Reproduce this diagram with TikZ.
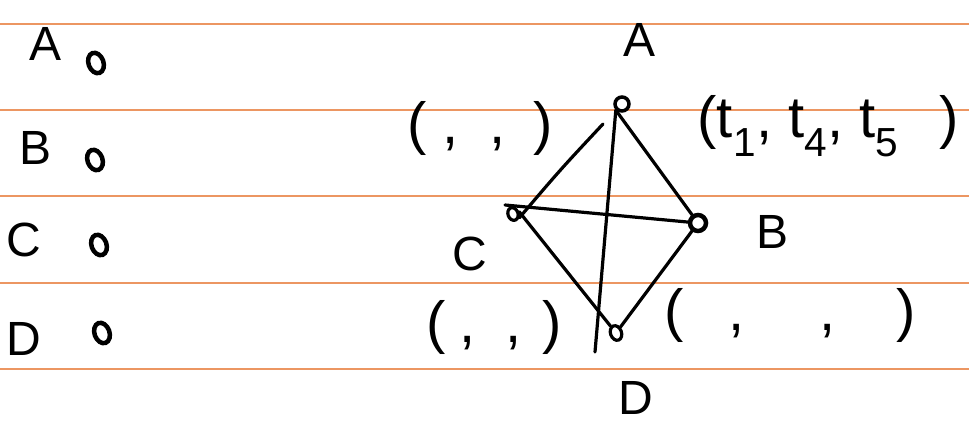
\documentclass[tikz,border=0pt]{standalone}
\usepackage{fontspec}
\setmainfont{Liberation Sans}
\usetikzlibrary{shapes.geometric}
\definecolor{ruled}{RGB}{236,150,98}
\tikzset{
  ruleline/.style={ruled, line width=2.6pt},
  lbl/.style={inner sep=0pt, font=\fontsize{48}{50}\selectfont},
  tup/.style={inner sep=0pt, font=\fontsize{58}{60}\selectfont},
  listdot/.style={ellipse, draw, line width=4.5pt, minimum width=15pt, minimum height=21pt, inner sep=0pt, rotate=20},
  vtx/.style={circle, draw, line width=3.5pt, minimum size=14pt, inner sep=0pt},
  edge/.style={line width=3.2pt, line cap=round},
}
\begin{document}
\begin{tikzpicture}[x=1pt,y=-1pt]
\useasboundingbox (0,0) rectangle (969,423);
\fill[white] (0,0) rectangle (969,423);
% ruled lines
\foreach \yy in {24,110,196,283,369}
  \draw[ruleline] (0,\yy) -- (969,\yy);
% left list
\node[lbl] (la) at (46,44) {A};
\node[lbl] (lb) at (36,148) {B};
\node[lbl] (lc) at (24,240) {C};
\node[lbl] (ld) at (24,339) {D};
\node[listdot] (oa) at (96,63) {};
\node[listdot] (ob) at (95,160) {};
\node[listdot] (oc) at (99,245) {};
\node[listdot] (od) at (102,333) {};
% graph vertices
\node[vtx] (A) at (622,104) {};
\node[vtx, minimum size=16pt, line width=4.5pt] (B) at (698,223) {};
\node[listdot, minimum width=10pt, minimum height=13pt, line width=3.2pt] (C) at (513,214) {};
\node[listdot, minimum width=11pt, minimum height=15pt, line width=3.2pt] (D) at (616,333) {};
\coordinate (Dend) at (595,352);
\coordinate (Cend) at (505,205);
\coordinate (Atop) at (603,124);
% edges
\draw[edge] (A.south west) -- (Dend);
\draw[edge] (A.south west) -- (B);
\draw[edge] (B) -- (D);
\draw[edge] (C.east) -- (D);
\draw[edge] (Atop) .. controls (560,170) .. (C.south east);
\draw[edge] (Cend) -- (B);
% graph labels
\node[lbl] (gA) at (639,40) {A};
\node[lbl] (gB) at (772,232) {B};
\node[lbl] (gC) at (470,254) {C};
\node[lbl] (gD) at (636,398) {D};
% tuples
\node[tup] (tA) at (480,128) {(\hspace{16pt},\hspace{30pt},\hspace{28pt})};
\node[tup] (tB) at (828,126) {(t\textsubscript{1}, t\textsubscript{4}, t\textsubscript{5}\hspace{40pt})};
\node[tup] (tC) at (494,327) {(\hspace{14pt},\hspace{30pt},\hspace{20pt})};
\node[tup] (tD) at (790,315) {(\hspace{45pt},\hspace{75pt},\hspace{60pt})};
\end{tikzpicture}
\end{document}
